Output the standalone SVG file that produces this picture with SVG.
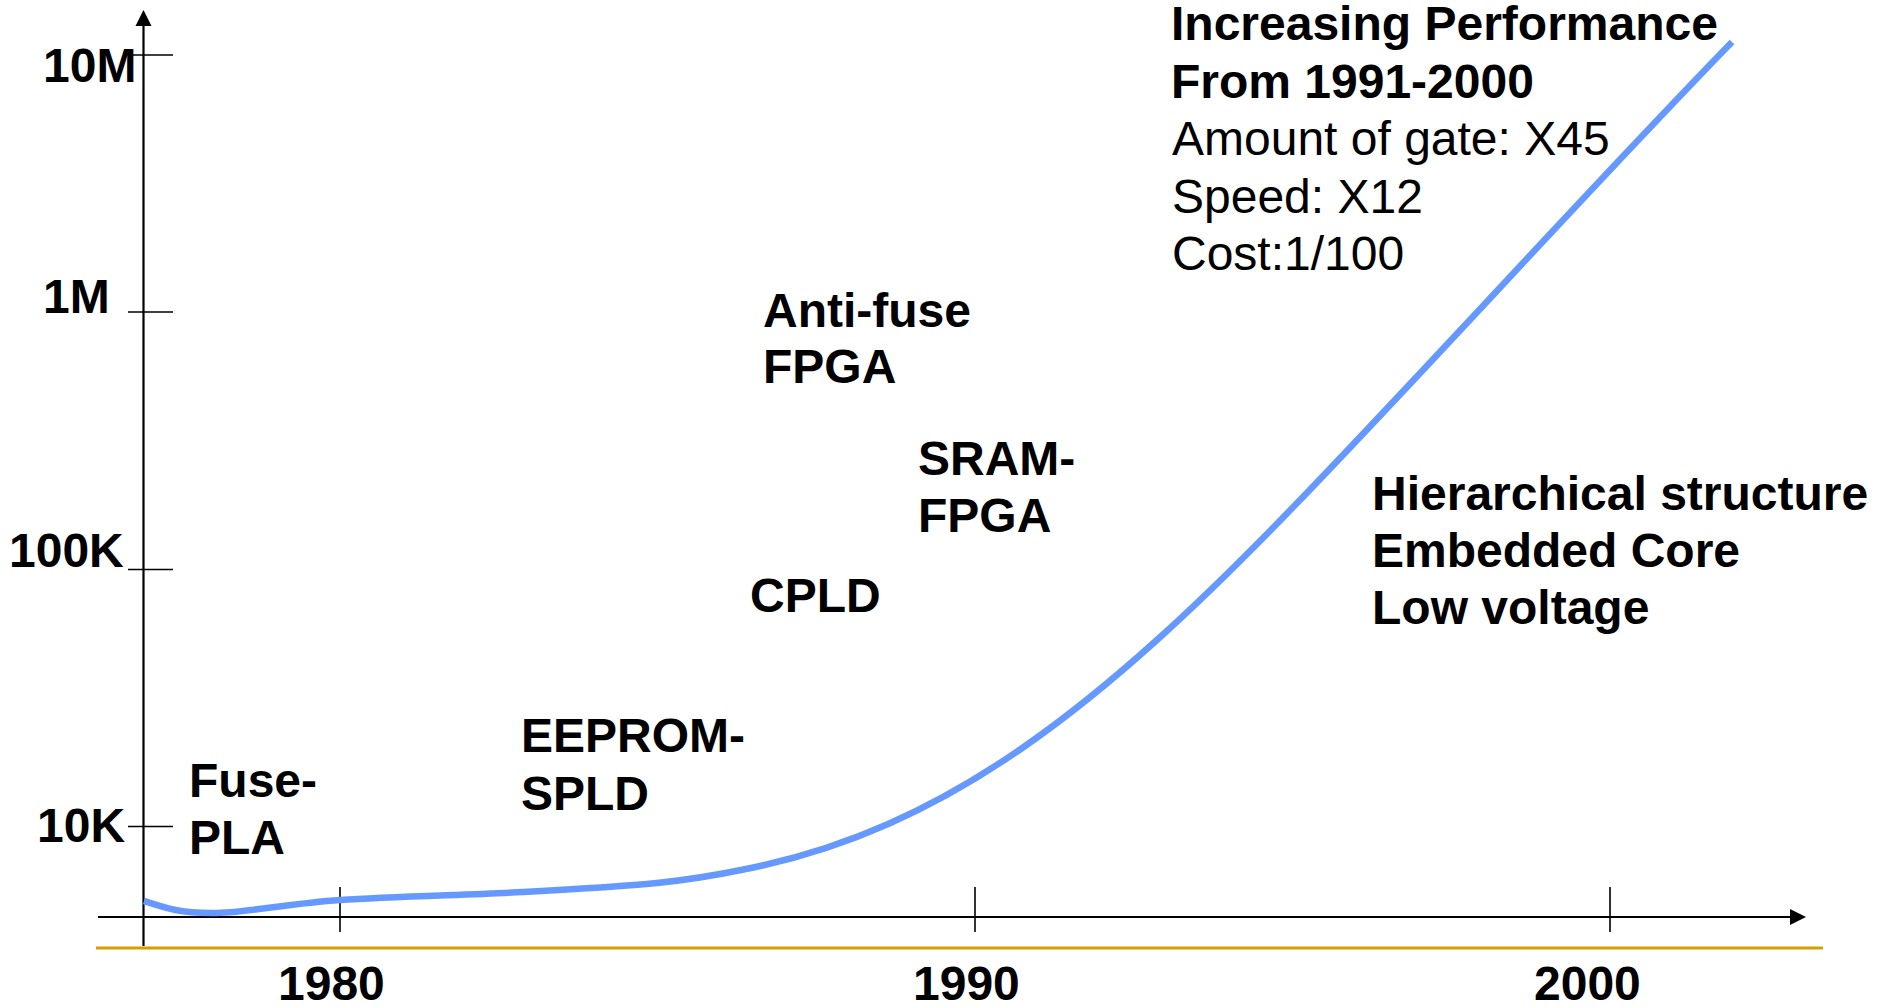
<svg xmlns="http://www.w3.org/2000/svg" width="1884" height="1007" viewBox="0 0 1884 1007">
<defs>
<style>
.b{font-family:"Liberation Sans",Arial,sans-serif;font-weight:bold;font-size:48px;fill:#000}
.r{font-family:"Liberation Sans",Arial,sans-serif;font-size:48px;fill:#000}
.ax{stroke:#000;stroke-width:2.2;fill:none}
.tk{stroke:#000;stroke-width:1.6;fill:none}
</style>
</defs>
<rect x="0" y="0" width="1884" height="1007" fill="#fff"/>
<g id="axes">
<line class="ax" x1="143.5" y1="946" x2="143.5" y2="24"/>
<polygon points="143.5,10 135.5,26 151.5,26" fill="#000"/>
<line class="ax" x1="98" y1="917" x2="1792" y2="917"/>
<polygon points="1806,917 1790,909 1790,925" fill="#000"/>
<line class="tk" x1="128" y1="55" x2="173" y2="55"/>
<line class="tk" x1="128" y1="312" x2="173" y2="312"/>
<line class="tk" x1="128" y1="569.5" x2="173" y2="569.5"/>
<line class="tk" x1="128" y1="826.5" x2="173" y2="826.5"/>
<line class="tk" x1="340" y1="887" x2="340" y2="932"/>
<line class="tk" x1="975" y1="887" x2="975" y2="932"/>
<line class="tk" x1="1610" y1="887" x2="1610" y2="932"/>
<line x1="96" y1="948" x2="1823" y2="948" stroke="#D4A000" stroke-width="3.2"/>
</g>
<g id="axis-labels">
<text class="b" x="43" y="82">10M</text>
<text class="b" x="43" y="313">1M</text>
<text class="b" x="9" y="567">100K</text>
<text class="b" x="37" y="842">10K</text>
<text class="b" x="278" y="1000">1980</text>
<text class="b" x="913" y="1000">1990</text>
<text class="b" x="1534" y="1000">2000</text>
</g>
<g id="connectors">
<path d="M144,901 C165,908 180.3,913.2 213,913 C245.7,912.8 288.3,903.5 340,900 C391.7,896.5 470.2,894.8 523,892 C575.8,889.2 619.8,886.8 657,883 C694.2,879.2 713.8,875.7 746,869 C946,829 1100,708 1300,500 C1440,354.4 1592,186 1732,42" fill="none" stroke="#6699FF" stroke-width="6.5"/>
</g>
<g id="node-fuse-pla">
<text class="b" x="189" y="797">Fuse-</text>
<text class="b" x="189" y="854">PLA</text>
</g>
<g id="node-eeprom-spld">
<text class="b" x="521" y="752">EEPROM-</text>
<text class="b" x="521" y="810">SPLD</text>
</g>
<g id="node-cpld">
<text class="b" x="750" y="612">CPLD</text>
</g>
<g id="node-antifuse-fpga">
<text class="b" x="763" y="327">Anti-fuse</text>
<text class="b" x="763" y="383">FPGA</text>
</g>
<g id="node-sram-fpga">
<text class="b" x="918" y="475">SRAM-</text>
<text class="b" x="918" y="532">FPGA</text>
</g>
<g id="node-performance">
<text class="b" x="1171" y="40">Increasing Performance</text>
<text class="b" x="1171" y="97.5">From 1991-2000</text>
<text class="r" x="1172" y="155">Amount of gate: X45</text>
<text class="r" x="1172" y="212.5">Speed: X12</text>
<text class="r" x="1172" y="270">Cost:1/100</text>
</g>
<g id="node-features">
<text class="b" x="1372" y="510">Hierarchical structure</text>
<text class="b" x="1372" y="567">Embedded Core</text>
<text class="b" x="1372" y="624">Low voltage</text>
</g>
</svg>
